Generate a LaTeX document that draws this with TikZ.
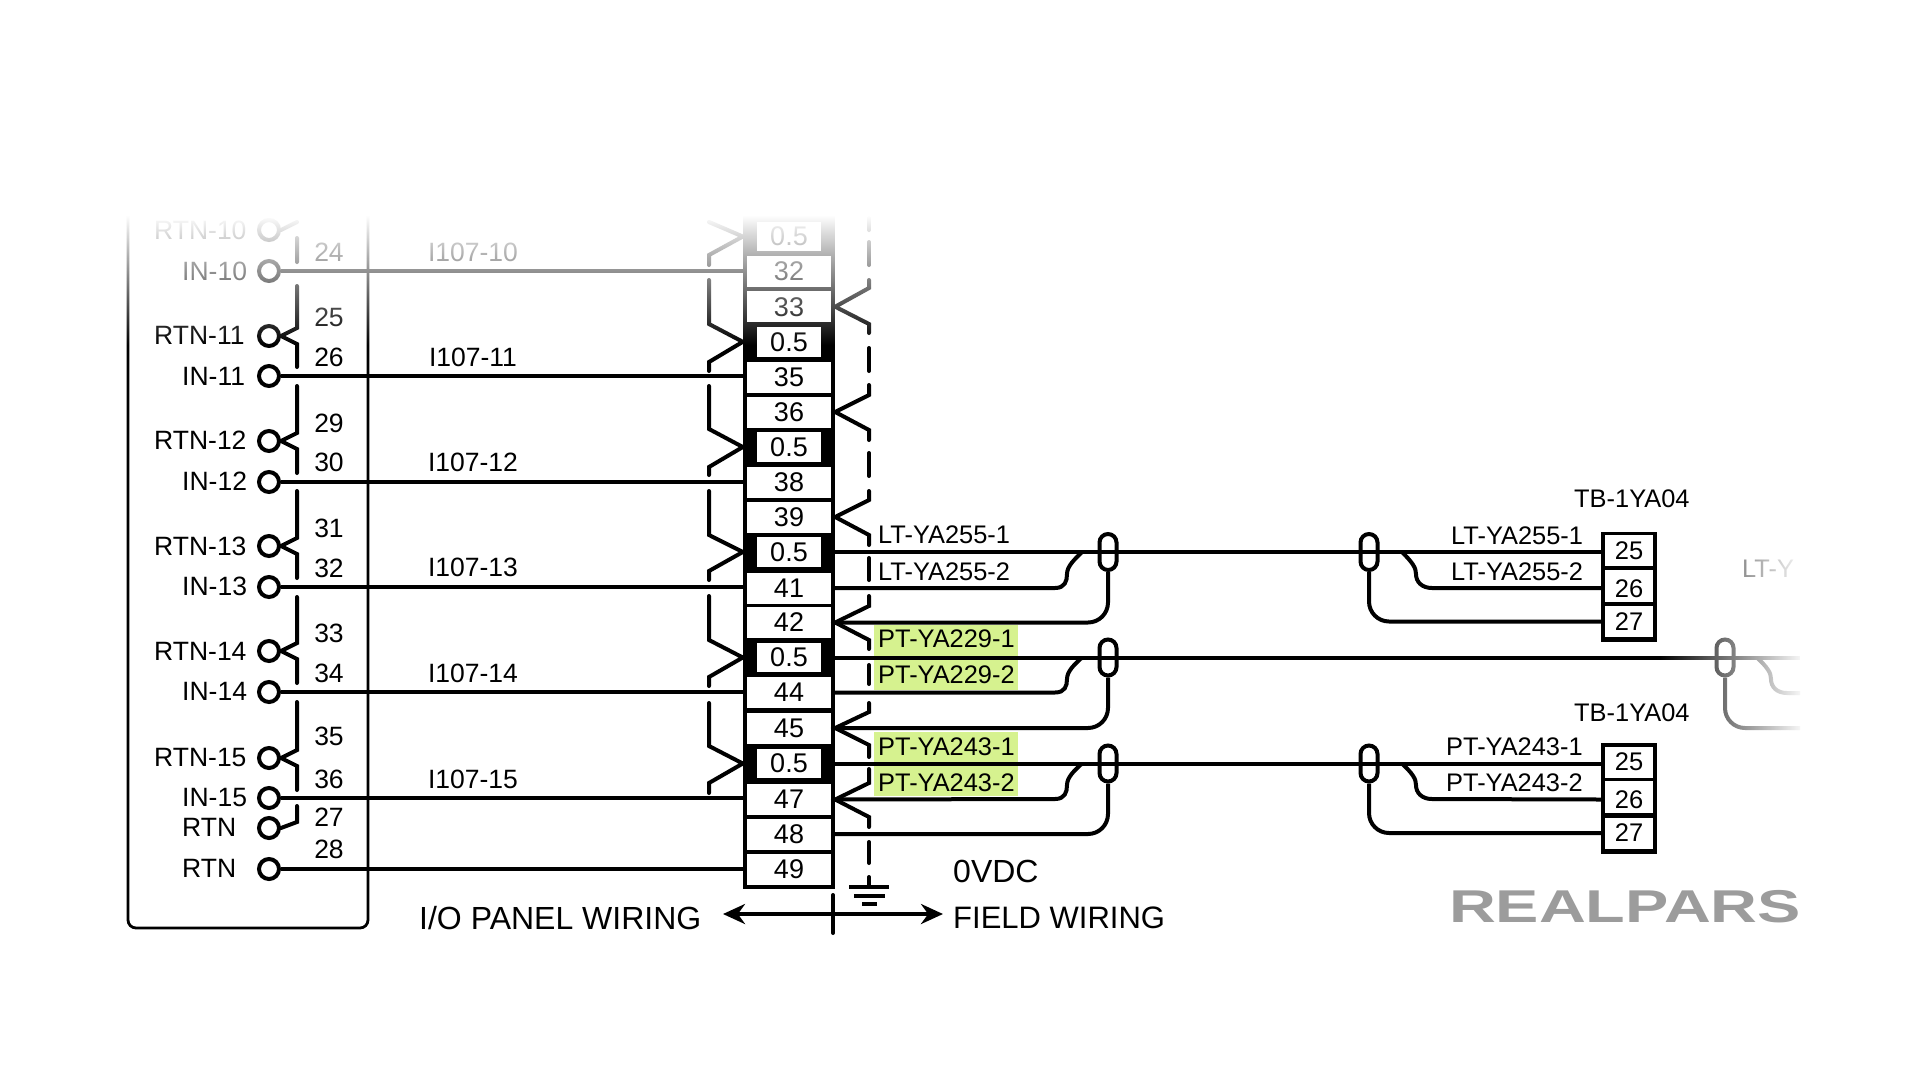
\documentclass[tikz,border=0pt]{standalone}
\usepackage{fontspec}
\setmainfont{Liberation Sans}
\usetikzlibrary{arrows.meta, fadings}
\definecolor{hlgreen}{HTML}{D6F28F}
\definecolor{logogray}{HTML}{9C9C9C}
\tikzset{
    wire/.style={line width=4pt},
    busline/.style={line width=4pt, line cap=round, miter limit=20},
    panelline/.style={line width=2.8pt, rounded corners=8pt},
    pin/.style={draw, circle, line width=4pt, minimum size=20pt, inner sep=0pt},
    pinlabel/.style={anchor=west, inner sep=0pt, font=\fontsize{26.5}{27}\selectfont},
    numlabel/.style={inner sep=0pt, font=\fontsize{26.5}{27}\selectfont},
    striplabel/.style={fill=white, inner sep=0pt, font=\fontsize{27}{27}\selectfont},
    cell/.style={striplabel, minimum width=84pt, minimum height=31pt},
    halfcell/.style={striplabel, minimum width=64pt, minimum height=29.5pt},
    termcell/.style={fill=white, inner sep=0pt, minimum width=48pt, minimum height=31pt, font=\fontsize{25.5}{26}\selectfont},
    wirelabel/.style={anchor=west, inner sep=0pt, font=\fontsize{25.4}{26}\selectfont},
    greenbox/.style={fill=hlgreen, anchor=west, inner sep=0pt, minimum width=144pt},
    splice/.style={draw, line width=4pt, rounded corners=8.5pt, minimum width=17pt, minimum height=36pt, inner sep=0pt},
    biglabel/.style={anchor=west, inner sep=0pt, font=\fontsize{31}{31}\selectfont}
}
\begin{document}
\begin{tikzpicture}[x=1pt, y=-1pt]
    \useasboundingbox (0,0) rectangle (1920,1080);

    % I/O panel outline
    \coordinate (paneltl) at (128,205);
    \coordinate (panelbl) at (128,928);
    \coordinate (panelbr) at (368,928);
    \coordinate (paneltr) at (368,205);
    \draw[panelline] (paneltl) -- (panelbl) -- (panelbr) -- (paneltr);

    % terminal strip
    \node[fill=black, minimum width=92pt, minimum height=674pt, inner sep=0pt] (strip) at (789,552) {};
    \node[halfcell] (c05z) at (789,236.5) {0.5};
    \node[cell] (c32) at (789,271.5) {32};
    \node[cell] (c33) at (789,306.7) {33};
    \node[halfcell] (c05a) at (789,341.8) {0.5};
    \node[cell] (c35) at (789,377) {35};
    \node[cell] (c36) at (789,412) {36};
    \node[halfcell] (c05b) at (789,447) {0.5};
    \node[cell] (c38) at (789,482.5) {38};
    \node[cell] (c39) at (789,517) {39};
    \node[halfcell] (c05c) at (789,552) {0.5};
    \node[cell] (c41) at (789,588) {41};
    \node[cell] (c42) at (789,622.5) {42};
    \node[halfcell] (c05d) at (789,657.5) {0.5};
    \node[cell] (c44) at (789,692.5) {44};
    \node[cell] (c45) at (789,728) {45};
    \node[halfcell] (c05e) at (789,763.5) {0.5};
    \node[cell] (c47) at (789,799.5) {47};
    \node[cell] (c48) at (789,834) {48};
    \node[cell] (c49) at (789,869.5) {49};

    % panel pins
    \node[pin] (rtn10) at (269,230) {};
    \node[pin] (in10) at (269,271) {};
    \node[pin] (rtn11) at (269,336) {};
    \node[pin] (in11) at (269,376) {};
    \node[pin] (rtn12) at (269,441) {};
    \node[pin] (in12) at (269,482) {};
    \node[pin] (rtn13) at (269,546) {};
    \node[pin] (in13) at (269,587) {};
    \node[pin] (rtn14) at (269,651) {};
    \node[pin] (in14) at (269,692) {};
    \node[pin] (rtn15) at (269,758) {};
    \node[pin] (in15) at (269,798) {};
    \node[pin] (rtna) at (269,828) {};
    \node[pin] (rtnb) at (269,869) {};

    % pin labels
    \node[pinlabel] (lrtn10) at (154,230) {RTN-10};
    \node[pinlabel] (lin10) at (182,271) {IN-10};
    \node[pinlabel] (lrtn11) at (154,335) {RTN-11};
    \node[pinlabel] (lin11) at (182,376) {IN-11};
    \node[pinlabel] (lrtn12) at (154,440) {RTN-12};
    \node[pinlabel] (lin12) at (182,481) {IN-12};
    \node[pinlabel] (lrtn13) at (154,546) {RTN-13};
    \node[pinlabel] (lin13) at (182,586) {IN-13};
    \node[pinlabel] (lrtn14) at (154,651) {RTN-14};
    \node[pinlabel] (lin14) at (182,691) {IN-14};
    \node[pinlabel] (lrtn15) at (154,757) {RTN-15};
    \node[pinlabel] (lin15) at (182,797) {IN-15};
    \node[pinlabel] (lrtna) at (182,827) {RTN};
    \node[pinlabel] (lrtnb) at (182,868) {RTN};

    % panel terminal numbers
    \node[numlabel] (n24) at (329,252) {24};
    \node[numlabel] (n25) at (329,317) {25};
    \node[numlabel] (n26) at (329,357) {26};
    \node[numlabel] (n29) at (329,423) {29};
    \node[numlabel] (n30) at (329,462) {30};
    \node[numlabel] (n31) at (329,528) {31};
    \node[numlabel] (n32) at (329,568) {32};
    \node[numlabel] (n33) at (329,633) {33};
    \node[numlabel] (n34) at (329,673) {34};
    \node[numlabel] (n35) at (329,736) {35};
    \node[numlabel] (n36) at (329,779) {36};
    \node[numlabel] (n27) at (329,817) {27};
    \node[numlabel] (n28) at (329,849) {28};

    % wire numbers
    \node[numlabel] (w10) at (473,252) {I107-10};
    \node[numlabel] (w11) at (473,357) {I107-11};
    \node[numlabel] (w12) at (473,462) {I107-12};
    \node[numlabel] (w13) at (473,567) {I107-13};
    \node[numlabel] (w14) at (473,673) {I107-14};
    \node[numlabel] (w15) at (473,779) {I107-15};

    % panel wiring
    \draw[wire] (in10.east) -- (strip.west |- in10);
    \draw[wire] (in11.east) -- (strip.west |- in11);
    \draw[wire] (in12.east) -- (strip.west |- in12);
    \draw[wire] (in13.east) -- (strip.west |- in13);
    \draw[wire] (in14.east) -- (strip.west |- in14);
    \draw[wire] (in15.east) -- (strip.west |- in15);
    \draw[wire] (rtnb.east) -- (strip.west |- rtnb);

    % panel return bus
    \draw[busline] (297,222) -- (rtn10.east) (297,238) -- (297,262);
    \draw[busline] (297,286) -- (297,328) -- (rtn11.east) -- (297,344) -- (297,367);
    \draw[busline] (297,386) -- (297,433) -- (rtn12.east) -- (297,449) -- (297,473);
    \draw[busline] (297,491) -- (297,538) -- (rtn13.east) -- (297,554) -- (297,578);
    \draw[busline] (297,597) -- (297,643) -- (rtn14.east) -- (297,659) -- (297,683);
    \draw[busline] (297,702) -- (297,750) -- (rtn15.east) -- (297,766) -- (297,790);
    \draw[busline] (297,806) -- (297,822) -- (rtna.east);

    % bus on the panel side of the strip
    \draw[busline] (709,222) -- (strip.west |- c05z) -- (709,255) -- (709,265);
    \draw[busline] (709,280) -- (709,324) -- (strip.west |- c05a) -- (709,362) -- (709,371);
    \draw[busline] (709,386) -- (709,429) -- (strip.west |- c05b) -- (709,467) -- (709,475);
    \draw[busline] (709,491) -- (709,535) -- (strip.west |- c05c) -- (709,571) -- (709,580);
    \draw[busline] (709,596) -- (709,640) -- (strip.west |- c05d) -- (709,677) -- (709,686);
    \draw[busline] (709,703) -- (709,746) -- (strip.west |- c05e) -- (709,783) -- (709,793);

    % dashed field bus
    \draw[busline] (869,218) -- (869,230) (869,242) -- (869,265);
    \draw[busline] (869,280) -- (869,288) -- (strip.east |- c33) -- (869,324) -- (869,333);
    \draw[busline] (869,348) -- (869,371);
    \draw[busline] (869,385) -- (869,395) -- (strip.east |- c36) -- (869,430) -- (869,440);
    \draw[busline] (869,453) -- (869,476);
    \draw[busline] (869,491) -- (869,500) -- (strip.east |- c39) -- (869,535) -- (869,545);
    \draw[busline] (869,558) -- (869,580);
    \draw[busline] (869,596) -- (869,606) -- (strip.east |- c42) -- (869,640) -- (869,649);
    \draw[busline] (869,665) -- (869,684);
    \draw[busline] (869,703) -- (869,712) -- (strip.east |- c45) -- (869,745) -- (869,757);
    \draw[busline] (869,769) -- (869,783) -- (strip.east |- c47) -- (869,817) -- (869,827);
    \draw[busline] (869,842) -- (869,863);

    % ground
    \coordinate (gndtop) at (869,887);
    \draw[busline] (869,877) -- (gndtop);
    \draw[wire] (849,887) -- (889,887);
    \draw[wire] (854,896) -- (885,896);
    \draw[wire] (862,904) -- (877,904);

    % green tags
    \node[greenbox, minimum height=65pt] (gba) at (874,657.5) {};
    \node[greenbox, minimum height=64pt] (gbb) at (874,764) {};
    \node[wirelabel] (pt2291) at (878,639) {PT-YA229-1};
    \node[wirelabel] (pt2292) at (878,675) {PT-YA229-2};
    \node[wirelabel] (pt2431) at (878,747) {PT-YA243-1};
    \node[wirelabel] (pt2432) at (878,783) {PT-YA243-2};
    \node[wirelabel] (lt2551) at (878,535) {LT-YA255-1};
    \node[wirelabel] (lt2552) at (878,572) {LT-YA255-2};

    % splices
    \node[splice] (spla) at (1108,552) {};
    \node[splice] (splb) at (1108,657.5) {};
    \node[splice] (splc) at (1108,763.5) {};
    \node[splice] (spra) at (1369,552) {};
    \node[splice] (sprb) at (1725,657.5) {};
    \node[splice] (sprc) at (1369,763.5) {};

    % TB-1YA04 upper
    \node[fill=black, minimum width=56pt, minimum height=110pt, inner sep=0pt] (tba) at (1629,587) {};
    \node[termcell] (ta25) at (1629,550.5) {25};
    \node[termcell, minimum height=32pt] (ta26) at (1629,585.5) {\raisebox{-3pt}[\height][0pt]{26}};
    \node[termcell] (ta27) at (1629,621.5) {27};

    % TB-1YA04 lower
    \node[fill=black, minimum width=56pt, minimum height=111pt, inner sep=0pt] (tbc) at (1629,798.5) {};
    \node[termcell] (tc25) at (1629,762) {25};
    \node[termcell, minimum height=32pt] (tc26) at (1629,797) {\raisebox{-3pt}[\height][0pt]{26}};
    \node[termcell] (tc27) at (1629,833) {27};

    % field cable, first pair
    \draw[wire] (strip.east |- c05c) -- (tba.west |- c05c);
    \draw[wire] (strip.east |- c41) -- (1055,588) .. controls (1065,588) and (1067,581) .. (1067,574) .. controls (1067,566) and (1075,559) .. (1082,552);
    \draw[wire, rounded corners=20pt] (spla.south) |- (strip.east |- c42);
    \draw[wire] (1402,552) .. controls (1413,563) and (1416,568) .. (1416,574) .. controls (1416,582) and (1422,588) .. (1432,588) -- (tba.west |- c41);
    \draw[wire, rounded corners=20pt] (spra.south) |- (tba.west |- ta27);

    % field cable, second pair
    \draw[wire] (strip.east |- c05d) -- (1800,657.5);
    \draw[wire] (strip.east |- c44) -- (1055,692.5) .. controls (1065,692.5) and (1067,686) .. (1067,679) .. controls (1067,671) and (1075,664) .. (1082,657.5);
    \draw[wire, rounded corners=20pt] (splb.south) |- (strip.east |- c45);
    \draw[wire] (1757,657.5) .. controls (1768,668) and (1771,673) .. (1771,679) .. controls (1771,687) and (1777,693) .. (1787,693) -- (1800,693);
    \draw[wire, rounded corners=20pt] (sprb.south) |- (1800,728);

    % field cable, third pair
    \draw[wire] (strip.east |- c05e) -- (tbc.west |- c05e);
    \draw[wire] (strip.east |- c47) -- (1055,799) .. controls (1065,799) and (1067,792) .. (1067,785) .. controls (1067,777) and (1075,770) .. (1082,763.5);
    \draw[wire, rounded corners=20pt] (splc.south) |- (strip.east |- c48);
    \draw[wire] (1402,763.5) .. controls (1413,774) and (1416,779) .. (1416,785) .. controls (1416,793) and (1422,799) .. (1432,799) -- (tbc.west |- c47);
    \draw[wire, rounded corners=20pt] (sprc.south) |- (tbc.west |- tc27);

    % labels on the right
    \node[wirelabel] (rlt1) at (1451,536) {LT-YA255-1};
    \node[wirelabel] (rlt2) at (1451,572) {LT-YA255-2};
    \node[wirelabel] (rpt1) at (1446,747) {PT-YA243-1};
    \node[wirelabel] (rpt2) at (1446,783) {PT-YA243-2};
    \node[wirelabel] (ltfade) at (1742,569) {LT-Y};

    % fade outs
    \fill[white, path fading=south] (110,215) rectangle (910,345);
    \fill[white] (110,170) rectangle (910,216);
    \fill[white, path fading=west] (1660,530) rectangle (1805,745);

    \node[wirelabel] (tbnamea) at (1574,499) {TB-1YA04};
    \node[wirelabel] (tbnamec) at (1574,713) {TB-1YA04};

    % panel / field divider
    \coordinate (arrowl) at (723,914);
    \coordinate (arrowr) at (943,914);
    \coordinate (divtop) at (833,895);
    \coordinate (divbot) at (833,933);
    \draw[wire, {Stealth[length=22pt,width=20pt]}-{Stealth[length=22pt,width=20pt]}] (arrowl) -- (arrowr);
    \draw[wire, line cap=round] (divtop) -- (divbot);
    \node[biglabel, font=\fontsize{32}{32}\selectfont] (iopanel) at (419,918) {I/O PANEL WIRING};
    \node[biglabel] (field) at (953,918) {FIELD WIRING};
    \node[biglabel, font=\fontsize{32}{32}\selectfont] (vdc) at (953,871) {0VDC};

    % logo
    \node[inner sep=0pt, text=logogray, font=\fontsize{46}{46}\selectfont\bfseries] (logo) at (1625,906.5) {\scalebox{1.41}[1]{REALPARS}};
\end{tikzpicture}
\end{document}
